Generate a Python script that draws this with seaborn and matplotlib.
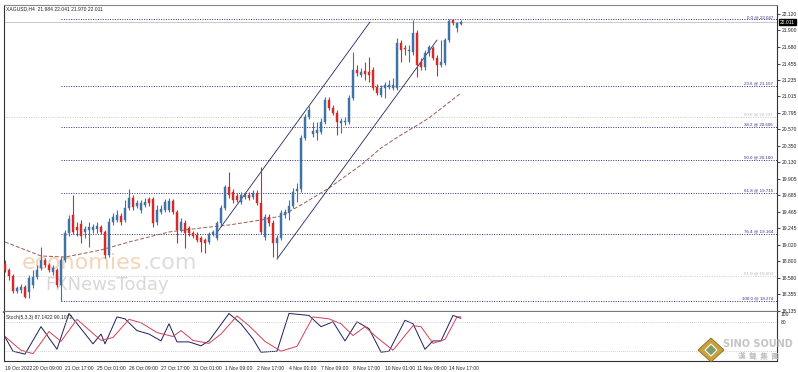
import matplotlib
matplotlib.use("Agg")
import numpy as np
import pandas as pd
import matplotlib.pyplot as plt
import matplotlib.transforms as mtransforms
from matplotlib.patches import Polygon
import seaborn as sns

# XAGUSD H4 candles (bar 0 = 19 Oct 2022)
opens = [18.764, 18.684, 18.603, 18.402, 18.415, 18.456, 18.389, 18.482, 18.590, 18.711,
         18.818, 18.751, 18.657, 18.684, 18.482, 18.818, 19.180, 19.422, 19.261, 19.301,
         19.194, 19.221, 19.221, 19.234, 19.261, 19.194, 18.885, 19.328, 19.355, 19.409,
         19.355, 19.516, 19.650, 19.543, 19.489, 19.556, 19.637, 19.637, 19.328, 19.462,
         19.489, 19.489, 19.610, 19.462, 19.221, 19.315, 19.248, 19.180, 19.154, 19.113,
         19.086, 19.060, 19.167, 19.113, 19.315, 19.516, 19.798, 19.731, 19.677, 19.597,
         19.664, 19.691, 19.664, 19.717, 19.583, 19.127, 19.395, 19.315, 19.046, 19.113,
         19.422, 19.449, 19.543, 19.744, 19.771, 20.456, 20.737, 20.509, 20.523, 20.536,
         20.670, 20.966, 20.858, 20.791, 20.657, 20.670, 20.670, 20.993, 21.368, 21.301,
         21.355, 21.342, 21.368, 21.140, 21.033, 21.127, 21.140, 21.127, 21.127, 21.731,
         21.664, 21.623, 21.610, 21.865, 21.476, 21.409, 21.597, 21.664, 21.530, 21.435,
         21.462, 21.771, 22.035, 21.932, 21.984]
highs = [18.818, 18.711, 18.630, 18.469, 18.496, 18.482, 18.617, 18.684, 18.751, 18.992,
         18.845, 18.778, 18.751, 18.711, 18.858, 19.221, 19.422, 19.691, 19.328, 19.355,
         19.274, 19.328, 19.301, 19.328, 19.288, 19.221, 19.382, 19.449, 19.489, 19.449,
         19.623, 19.771, 19.691, 19.623, 19.623, 19.650, 19.664, 19.664, 19.556, 19.556,
         19.637, 19.650, 19.637, 19.489, 19.382, 19.355, 19.274, 19.207, 19.194, 19.140,
         19.113, 19.194, 19.221, 19.342, 19.556, 19.825, 19.999, 19.771, 19.717, 19.731,
         19.731, 19.731, 19.758, 19.758, 20.066, 19.435, 19.435, 19.355, 19.154, 19.489,
         19.503, 19.623, 19.784, 19.852, 20.496, 20.778, 20.885, 20.670, 20.670, 20.724,
         21.006, 21.006, 20.899, 20.831, 20.724, 20.737, 21.033, 21.610, 21.435, 21.395,
         21.476, 21.543, 21.409, 21.180, 21.167, 21.207, 21.234, 21.261, 21.798, 21.771,
         21.704, 21.704, 22.040, 21.905, 21.530, 21.637, 21.704, 21.690, 21.570, 21.771,
         21.798, 22.047, 22.047, 22.013, 22.041]
lows = [18.657, 18.550, 18.375, 18.375, 18.375, 18.308, 18.308, 18.442, 18.563, 18.684,
        18.724, 18.657, 18.617, 18.456, 18.274, 18.791, 19.140, 19.167, 19.140, 19.046,
        19.113, 18.992, 19.180, 19.180, 19.167, 18.845, 18.858, 19.288, 19.328, 19.288,
        19.328, 19.489, 19.489, 19.516, 19.449, 19.529, 19.543, 19.261, 19.288, 19.435,
        19.462, 19.462, 19.435, 19.046, 19.194, 18.979, 19.140, 19.113, 19.060, 18.925,
        18.912, 19.033, 19.140, 19.086, 19.288, 19.489, 19.650, 19.583, 19.597, 19.570,
        19.637, 19.623, 19.637, 19.556, 19.167, 19.086, 19.274, 18.858, 18.831, 19.086,
        19.382, 19.355, 19.516, 19.597, 19.731, 20.429, 20.711, 20.469, 20.429, 20.509,
        20.643, 20.831, 20.764, 20.496, 20.523, 20.630, 20.643, 20.966, 21.288, 21.274,
        21.234, 21.207, 21.100, 21.033, 21.006, 20.993, 21.113, 21.100, 21.100, 21.476,
        21.570, 21.476, 21.570, 21.274, 21.368, 21.368, 21.556, 21.503, 21.288, 21.409,
        21.435, 21.744, 21.972, 21.878, 21.970]
closes = [18.684, 18.603, 18.402, 18.442, 18.456, 18.321, 18.576, 18.590, 18.684, 18.818,
          18.751, 18.684, 18.711, 18.482, 18.818, 19.180, 19.368, 19.194, 19.221, 19.140,
          19.234, 19.261, 19.261, 19.274, 19.194, 18.885, 19.328, 19.395, 19.422, 19.328,
          19.516, 19.650, 19.529, 19.583, 19.583, 19.597, 19.583, 19.315, 19.489, 19.503,
          19.597, 19.610, 19.462, 19.221, 19.328, 19.180, 19.180, 19.140, 19.086, 19.060,
          19.046, 19.167, 19.194, 19.315, 19.516, 19.798, 19.691, 19.623, 19.623, 19.691,
          19.691, 19.650, 19.717, 19.583, 19.194, 19.395, 19.315, 19.046, 19.113, 19.449,
          19.462, 19.543, 19.731, 19.771, 20.456, 20.737, 20.831, 20.550, 20.563, 20.670,
          20.966, 20.858, 20.791, 20.670, 20.684, 20.684, 20.993, 21.368, 21.328, 21.342,
          21.315, 21.301, 21.127, 21.060, 21.127, 21.167, 21.167, 21.167, 21.731, 21.637,
          21.650, 21.637, 21.865, 21.435, 21.409, 21.597, 21.677, 21.530, 21.435, 21.476,
          21.771, 22.030, 21.999, 21.999, 22.011]

# moving average (dashed), sampled at bar positions
ma_bars = [0, 9, 15, 24, 31, 41, 49, 56, 64, 69, 74, 81, 89, 94, 99, 106, 114]
ma_values = [19.060, 18.872, 18.858, 18.952, 19.060, 19.194, 19.248, 19.288, 19.355, 19.409,
             19.556, 19.784, 20.093, 20.321, 20.496, 20.724, 21.060]

# Stoch(5,3,3) main (%K) and signal (%D) lines
stoch_k_bars = [0, 2, 5, 9, 13, 16, 22, 24, 25, 28, 30, 33, 36, 39, 41, 43, 46, 49, 51, 56,
                59, 62, 64, 68, 71, 76, 79, 82, 85, 88, 91, 94, 96, 100, 102, 105, 107, 109, 112, 114]
stoch_k = [49, 20, 14, 70, 24, 97, 35, 55, 35, 90, 86, 62, 55, 41, 76, 39, 39, 31, 41, 97,
           76, 45, 18, 20, 97, 93, 70, 80, 41, 80, 66, 18, 20, 83, 76, 24, 41, 41, 93, 87.1422]
stoch_d_bars = [0, 4, 7, 11, 14, 18, 24, 27, 31, 34, 38, 42, 44, 47, 51, 54, 58, 61, 65, 69,
                73, 77, 81, 84, 87, 90, 93, 97, 102, 104, 107, 110, 113, 114]
stoch_d = [50, 22, 15, 60, 40, 85, 42, 48, 85, 78, 58, 50, 62, 42, 36, 55, 92, 72, 40, 20,
           30, 90, 86, 76, 52, 70, 48, 22, 72, 70, 36, 44, 90, 90.1072]

# Fibonacci retracement levels drawn from the 18.274 low
fib_names = ["0.0", "23.6", "38.2", "50.0", "61.8", "76.4", "100.0"]
fib_levels = [22.047, 21.157, 20.606, 20.160, 19.715, 19.164, 18.274]
fib_start_bar = 14
faint_fib_names = ["50.0", "61.8"]
faint_fib_levels = [20.737, 18.603]

# channel lines (bar, price) anchors
channel_upper = ([53.25, 91.25], [19.207, 22.013])
channel_lower = ([68.0, 108.0], [18.831, 21.771])

price_ticks = [22.120, 21.900, 21.680, 21.455, 21.235, 21.015, 20.795, 20.570, 20.350,
               20.130, 19.905, 19.685, 19.465, 19.245, 19.020, 18.800, 18.580, 18.355, 18.135]
date_labels = ["19 Oct 2022", "20 Oct 09:00", "21 Oct 17:00", "25 Oct 01:00", "26 Oct 09:00",
               "27 Oct 17:00", "31 Oct 01:00", "1 Nov 09:00", "2 Nov 17:00", "4 Nov 01:00",
               "7 Nov 09:00", "8 Nov 17:00", "10 Nov 01:00", "11 Nov 09:00", "14 Nov 17:00"]
date_label_bars = [0, 7, 15, 23, 31, 39, 47, 55, 63, 71, 79, 87, 95, 103, 111]
last_bid = 22.011

sns.set_style("white")
plt.rcParams["font.family"] = ["Liberation Sans", "DejaVu Sans", "Noto Sans CJK TC"]

W, H = 798, 372
fig = plt.figure(figsize=(W / 100, H / 100), dpi=100)
ax = fig.add_axes([4 / W, 60 / H, 773 / W, 307 / H])
ax2 = fig.add_axes([4 / W, 11 / H, 773 / W, 49 / H])

xmin, xmax = -0.25, 193.0
bull_c, bear_c = "#3f73a6", "#d42a2a"
fib_c = "#2f2f80"
small = 3.6
tiny = 3.2

df = pd.DataFrame({"open": opens, "high": highs, "low": lows, "close": closes})
df["bar"] = np.arange(len(df))
up = df["close"] >= df["open"]
colors = np.where(up, bull_c, bear_c)

# watermark
wm_font = ["DejaVu Sans"]
ax.text(22 / W, 1 - 263 / H, "economies", transform=fig.transFigure, fontsize=16,
        color="#f7d4b8", va="center", ha="left", zorder=0.5, family=wm_font)
ax.text(143 / W, 1 - 263 / H, ".com", transform=fig.transFigure, fontsize=16,
        color="#dcdcdc", va="center", ha="left", zorder=0.5, family=wm_font)
ax.text(45 / W, 1 - 285 / H, "FXNewsToday", transform=fig.transFigure, fontsize=13,
        color="#d8d8d8", va="center", ha="left", zorder=0.5, family=wm_font)

# candles
ax.vlines(df["bar"], df["low"], df["high"], colors=colors, lw=0.8, zorder=3)
body = (df["close"] - df["open"]).abs().clip(lower=0.006)
ax.bar(df["bar"], body, bottom=df[["open", "close"]].min(axis=1), width=0.72,
       color=colors, edgecolor=colors, linewidth=0.3, zorder=4)

# moving average
ma = pd.DataFrame({"bar": ma_bars, "ma": ma_values})
sns.lineplot(data=ma, x="bar", y="ma", ax=ax, color="#9a5a52", lw=0.7,
             linestyle=(0, (4, 2)), zorder=2)

# channel
ax.plot(*channel_upper, color="#24245e", lw=0.6, zorder=2)
ax.plot(*channel_lower, color="#24245e", lw=0.6, zorder=2)

# bid line
ax.axhline(last_bid, color="#c0c0c0", lw=0.6, zorder=1)

# fib levels
ax.hlines(faint_fib_levels, xmin, xmax, colors="#c8c8c8", lw=0.7, linestyles=(0, (1, 1.5)), zorder=1)
for name, lvl in zip(faint_fib_names, faint_fib_levels):
    ax.text(xmax - 1, lvl + 0.006, f"{name} @ {lvl:.3f}", fontsize=tiny, color="#b8b8b8",
            ha="right", va="bottom", zorder=5)
ax.hlines(fib_levels, fib_start_bar, xmax, colors=fib_c, lw=0.7, linestyles=(0, (1, 1.5)), zorder=1)
for name, lvl in zip(fib_names, fib_levels):
    ax.text(xmax - 1, lvl + 0.006, f"{name} @ {lvl:.3f}", fontsize=tiny, color=fib_c,
            ha="right", va="bottom", zorder=5)

ax.set_xlim(xmin, xmax)
ax.set_ylim(18.120, 22.241)
ax.set_xticks([])
ax.set_xlabel("")
ax.set_ylabel("")
ax.yaxis.tick_right()
ax.set_yticks(price_ticks)
ax.set_yticklabels([f"{p:.3f}" for p in price_ticks])
ax.tick_params(axis="y", length=2, width=0.6, pad=1.2, labelsize=small, colors="#222222")
for s in ["left", "right"]:
    ax.spines[s].set_color("#333333")
    ax.spines[s].set_linewidth(0.8)
ax.spines["top"].set_color("#888888")
ax.spines["top"].set_linewidth(0.8)
ax.spines["bottom"].set_color("#777777")
ax.spines["bottom"].set_linewidth(1.6)

ax.text(0.003, 22.185, "XAGUSD,H4  21.984 22.041 21.970 22.011", fontsize=small,
        color="#222222", ha="left", va="center",
        transform=mtransforms.blended_transform_factory(ax.transAxes, ax.transData))
ax.text(1.004, last_bid, f"{last_bid:.3f}", fontsize=small, color="white", ha="left",
        va="center", transform=mtransforms.blended_transform_factory(ax.transAxes, ax.transData),
        bbox=dict(boxstyle="square,pad=0.15", fc="black", ec="black"), zorder=6)

# stochastic
sk = pd.DataFrame({"bar": stoch_k_bars, "v": stoch_k})
sd = pd.DataFrame({"bar": stoch_d_bars, "v": stoch_d})
sns.lineplot(data=sk, x="bar", y="v", ax=ax2, color="#1e1e5a", lw=0.7)
sns.lineplot(data=sd, x="bar", y="v", ax=ax2, color="#d0405a", lw=0.7)
ax2.axhline(80, color="#c0c0c0", lw=0.6, ls=(0, (1, 1.5)))
ax2.axhline(20, color="#c0c0c0", lw=0.6, ls=(0, (1, 1.5)))
ax2.set_xlim(xmin, xmax)
ax2.set_ylim(0, 100)
ax2.set_xlabel("")
ax2.set_ylabel("")
ax2.yaxis.tick_right()
ax2.set_yticks([95, 80])
ax2.set_yticklabels(["100", "80"])
ax2.tick_params(axis="y", length=0, pad=2.5, labelsize=small, colors="#222222")
ax2.set_xticks(date_label_bars)
ax2.set_xticklabels(date_labels, ha="left")
ax2.tick_params(axis="x", length=2, width=0.6, pad=1.5, labelsize=small, colors="#222222")
for s in ["left", "right", "bottom"]:
    ax2.spines[s].set_color("#333333")
    ax2.spines[s].set_linewidth(0.8)
ax2.spines["top"].set_visible(False)
ax2.text(0.003, 0.93, "Stoch(5,3,3) 87.1422 90.1072", transform=ax2.transAxes,
         fontsize=small, color="#222222", ha="left", va="top")

# logo bottom right
cx, cy = 711, 350
outer = [(cx - 13, cy), (cx, cy - 12), (cx + 13, cy), (cx, cy + 12)]
inner = [(cx - 6, cy), (cx, cy - 6), (cx + 6, cy), (cx, cy + 6)]
fig.patches.append(Polygon([(x / W, 1 - y / H) for x, y in outer], closed=True,
                           transform=fig.transFigure, fc="#c9a13c", ec="#8a6a20", lw=0.6))
fig.patches.append(Polygon([(x / W, 1 - y / H) for x, y in inner], closed=True,
                           transform=fig.transFigure, fc="#7d9a6a", ec="white", lw=0.8))
fig.text(758 / W, 1 - 344 / H, "SINO SOUND", fontsize=7, fontweight="bold", color="#c4c4c4",
         ha="center", va="center", family=["DejaVu Sans"])
fig.text(758 / W, 1 - 356 / H, "漢  聲  集  團", fontsize=5.5, fontweight="bold", color="#bcbcbc",
         ha="center", va="center", family=["Noto Sans CJK TC", "DejaVu Sans"])

fig.savefig("out.png", dpi=100)
